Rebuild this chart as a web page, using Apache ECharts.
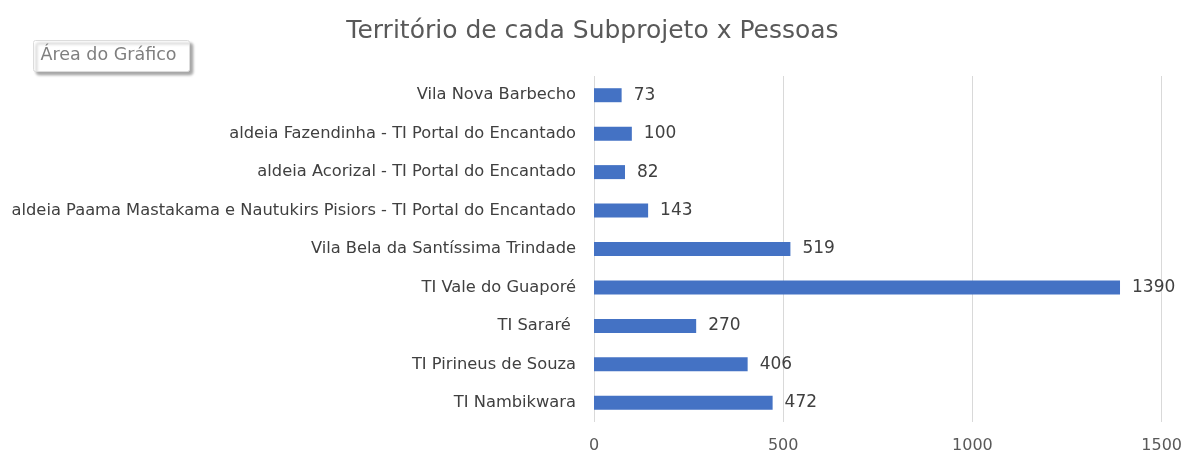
<!DOCTYPE html>
<html>
<head>
<meta charset="utf-8">
<script src="https://cdn.jsdelivr.net/npm/echarts@6/dist/echarts.min.js"></script>
<style>
  html, body { margin: 0; padding: 0; background: #fff; }
  #main { width: 1185px; height: 454px; }
</style>
</head>
<body>
<div id="main"></div>
<script>
var categories = [
    'Vila Nova Barbecho',
    'aldeia Fazendinha - TI Portal do Encantado',
    'aldeia Acorizal - TI Portal do Encantado',
    'aldeia Paama Mastakama e Nautukirs Pisiors - TI Portal do Encantado',
    'Vila Bela da Santíssima Trindade',
    'TI Vale do Guaporé',
    'TI Sararé ',
    'TI Pirineus de Souza',
    'TI Nambikwara'
];
var pessoas = [73, 100, 82, 143, 519, 1390, 270, 406, 472];
var x_ticks = [0, 500, 1000, 1500];

var font = '"DejaVu Sans", "Open Sans", sans-serif';
var main_chart = echarts.init(document.getElementById('main'));

var main_option = {
    animation: false,
    title: {
        text: 'Território de cada Subprojeto x Pessoas',
        left: 'center',
        top: 14,
        textStyle: { fontFamily: font, fontSize: 25, fontWeight: 'normal', color: '#595959' }
    },
    graphic: [
        {
            type: 'group',
            left: 33,
            top: 40,
            children: [
                {
                    type: 'rect',
                    shape: { x: 0, y: 0, width: 156, height: 31, r: 2 },
                    style: {
                        fill: '#fff', stroke: '#dcdcdc', lineWidth: 1,
                        shadowBlur: 3, shadowOffsetX: 3, shadowOffsetY: 3, shadowColor: 'rgba(0,0,0,0.35)'
                    }
                },
                {
                    type: 'text',
                    x: 7,
                    y: 6,
                    style: { text: 'Área do Gráfico', font: '17.5px ' + font, fill: '#7f7f7f' }
                }
            ]
        }
    ],
    grid: {
        left: 594,
        right: 21,
        top: 76,
        bottom: 32,
        containLabel: false
    },
    xAxis: {
        type: 'value',
        min: x_ticks[0],
        max: x_ticks[x_ticks.length - 1],
        interval: x_ticks[1] - x_ticks[0],
        axisLine: { show: false },
        axisTick: { show: false },
        axisLabel: {
            fontFamily: font, fontSize: 16, color: '#595959', margin: 16,
            formatter: function (v) { return String(v); }
        },
        splitLine: { show: true, lineStyle: { color: '#d9d9d9', width: 1 } }
    },
    yAxis: {
        type: 'category',
        inverse: true,
        data: categories,
        axisLine: { show: false },
        axisTick: { show: false },
        axisLabel: { fontFamily: font, fontSize: 16.3, color: '#404040', margin: 18 }
    },
    series: [
        {
            name: 'Pessoas',
            type: 'bar',
            data: pessoas,
            barWidth: 14,
            itemStyle: { color: '#4472c4' },
            label: {
                show: true,
                position: 'right',
                distance: 12,
                fontFamily: font,
                fontSize: 17,
                color: '#404040'
            }
        }
    ]
};

main_chart.setOption(main_option);
</script>
</body>
</html>
